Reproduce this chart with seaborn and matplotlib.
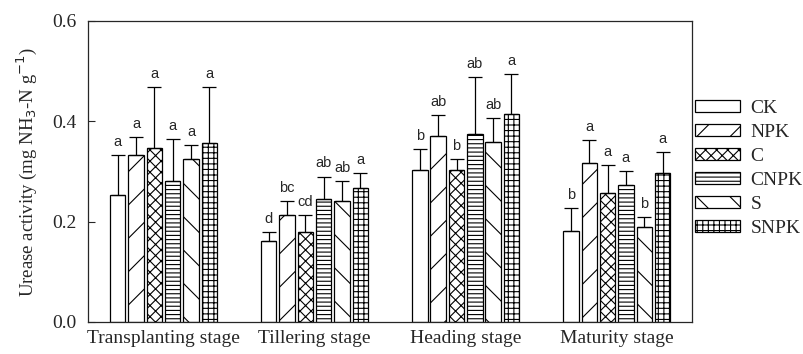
import numpy as np
import pandas as pd
import matplotlib
matplotlib.use("Agg")
import matplotlib.pyplot as plt
import matplotlib.patches as mpatches
import seaborn as sns

# values
stages = ["Transplanting stage", "Tillering stage", "Heading stage", "Maturity stage"]
treatments = ["CK", "NPK", "C", "CNPK", "S", "SNPK"]

# mean urease activity, one list per treatment (order = stages)
ck = [0.254, 0.161, 0.302, 0.181]
npk = [0.333, 0.213, 0.370, 0.316]
c = [0.347, 0.179, 0.302, 0.258]
cnpk = [0.282, 0.245, 0.375, 0.274]
s = [0.325, 0.242, 0.359, 0.190]
snpk = [0.357, 0.268, 0.414, 0.297]

# standard deviations (upper bar only)
ck_sd = [0.079, 0.018, 0.042, 0.047]
npk_sd = [0.035, 0.028, 0.042, 0.046]
c_sd = [0.122, 0.035, 0.023, 0.055]
cnpk_sd = [0.083, 0.045, 0.114, 0.027]
s_sd = [0.027, 0.039, 0.047, 0.020]
snpk_sd = [0.111, 0.029, 0.080, 0.041]

# significance letters
ck_lab = ["a", "d", "b", "b"]
npk_lab = ["a", "bc", "ab", "a"]
c_lab = ["a", "cd", "b", "a"]
cnpk_lab = ["a", "ab", "ab", "a"]
s_lab = ["a", "ab", "ab", "b"]
snpk_lab = ["a", "a", "a", "a"]

means = [ck, npk, c, cnpk, s, snpk]
sds = [ck_sd, npk_sd, c_sd, cnpk_sd, s_sd, snpk_sd]
labels = [ck_lab, npk_lab, c_lab, cnpk_lab, s_lab, snpk_lab]
hatches = ["", "/", "xxx", "----", "\\", "+++"]

rows = []
for t, m, e, l in zip(treatments, means, sds, labels):
    for st, v, sd, lab in zip(stages, m, e, l):
        rows.append({"Stage": st, "Treatment": t, "Urease": v, "SD": sd, "Label": lab})
df = pd.DataFrame(rows)

sns.set_style("ticks")
plt.rcParams["font.family"] = ["Liberation Serif", "DejaVu Serif"]
plt.rcParams["hatch.linewidth"] = 0.8

fig = plt.figure(figsize=(8.04, 3.54), dpi=100)
ax = fig.add_axes([0.1095, 0.0904, 0.7515, 0.8503])

sns.barplot(data=df, x="Stage", y="Urease", hue="Treatment", order=stages,
            hue_order=treatments, color="white", edgecolor="black", linewidth=0.9,
            width=0.728, gap=0.16, errorbar=None, ax=ax)

bars = ax.patches[:len(treatments) * len(stages)]
for i, t in enumerate(treatments):
    for j, st in enumerate(stages):
        p = bars[i * len(stages) + j]
        p.set_facecolor("white")
        p.set_hatch(hatches[i])
        row = df[(df.Treatment == t) & (df.Stage == st)].iloc[0]
        xc = p.get_x() + p.get_width() / 2
        ax.errorbar(xc, row.Urease, yerr=[[0], [row.SD]], fmt="none",
                    ecolor="black", elinewidth=0.9, capsize=5, capthick=0.9)
        ax.text(xc, row.Urease + row.SD + 0.012, row.Label, ha="center", va="bottom",
                fontsize=10.5, family=["Liberation Sans", "DejaVu Sans"])

ax.set_ylim(0, 0.6)
ax.set_xlim(-0.5, 3.5)
ax.set_yticks([0.0, 0.2, 0.4, 0.6])
ax.set_yticklabels(["0.0", "0.2", "0.4", "0.6"])
ax.tick_params(axis="y", direction="in", length=5, labelsize=14, width=0.8, pad=8)
ax.tick_params(axis="x", length=0, labelsize=14, pad=6)
ax.set_xlabel("")
ax.set_ylabel("Urease activity (mg NH$_3$-N g$^{-1}$)", fontsize=13.5, labelpad=10)
for sp in ax.spines.values():
    sp.set_visible(True)
    sp.set_linewidth(0.9)

handles = []
for t, h in zip(treatments, hatches):
    handles.append(mpatches.Patch(facecolor="white", edgecolor="black", hatch=h,
                                  linewidth=0.9, label=t))
ax.legend(handles=handles, loc="center left", bbox_to_anchor=(1.0, 0.51), frameon=False,
          fontsize=14, handlelength=2.3, handleheight=0.6, labelspacing=0.36,
          handletextpad=0.55, borderpad=0.0, borderaxespad=0.15)

fig.savefig("out.png", dpi=100)
